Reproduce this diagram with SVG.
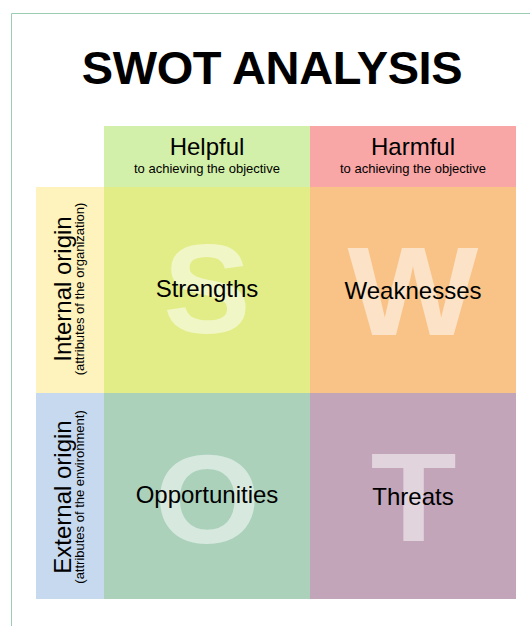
<svg xmlns="http://www.w3.org/2000/svg" width="530" height="626" viewBox="0 0 530 626">
<style>
text{font-family:"Liberation Sans",Arial,sans-serif;fill:#000;text-anchor:middle}
.big{font-weight:bold;font-size:126px;fill:#fff;fill-opacity:0.52}
.lbl{font-size:24px}
.sub{font-size:13px}
</style>
<rect width="530" height="626" fill="#fff"/>
<path d="M11.5 626 V13.5 H530" fill="none" stroke="#9ccdb3" stroke-width="1"/>
<g id="title"><text x="272" y="84" style="font-size:47px;font-weight:bold;letter-spacing:-0.4px">SWOT ANALYSIS</text></g>
<g id="helpful"><rect x="104" y="126" width="206" height="61" fill="#d2f0a9"/><text class="lbl" x="207" y="155">Helpful</text><text class="sub" x="207" y="173">to achieving the objective</text></g>
<g id="harmful"><rect x="310" y="126" width="206" height="61" fill="#f9a6a6"/><text class="lbl" x="413" y="155">Harmful</text><text class="sub" x="413" y="173">to achieving the objective</text></g>
<g id="internal"><rect x="36" y="187" width="68" height="206" fill="#fef2bd"/><text class="lbl" transform="translate(71,289) rotate(-90)">Internal origin</text><text class="sub" transform="translate(84,289) rotate(-90)">(attributes of the organization)</text></g>
<g id="external"><rect x="36" y="393" width="68" height="206" fill="#c6d9ee"/><text class="lbl" transform="translate(71,497) rotate(-90)">External origin</text><text class="sub" transform="translate(84,497) rotate(-90)">(attributes of the environment)</text></g>
<g id="strengths"><rect x="104" y="187" width="206" height="206" fill="#e2ed88"/><text class="big" transform="translate(207,333) scale(1.04,1)">S</text><text class="lbl" x="207" y="297">Strengths</text></g>
<g id="weaknesses"><rect x="310" y="187" width="206" height="206" fill="#f9c388"/><text class="big" transform="translate(413,335) scale(1.1,1)">W</text><text class="lbl" x="413" y="299">Weaknesses</text></g>
<g id="opportunities"><rect x="104" y="393" width="206" height="206" fill="#abd1bb"/><text class="big" transform="translate(207.5,542.5) scale(1.08,1)">O</text><text class="lbl" x="207" y="503">Opportunities</text></g>
<g id="threats"><rect x="310" y="393" width="206" height="206" fill="#c2a5b9"/><text class="big" transform="translate(413.5,540.5) scale(1.12,1)">T</text><text class="lbl" x="413" y="505">Threats</text></g>
<g id="connectors"></g>
</svg>
